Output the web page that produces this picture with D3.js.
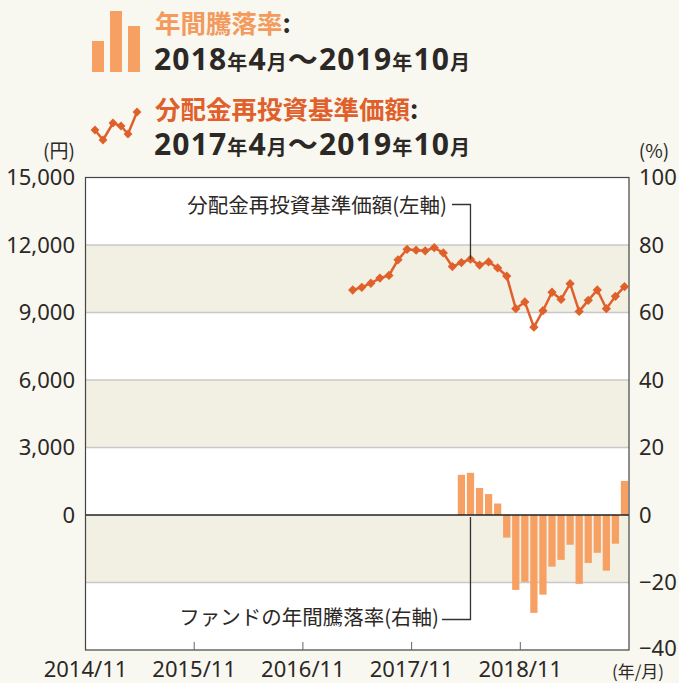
<!DOCTYPE html>
<html>
<head>
<meta charset="utf-8">
<script src="https://cdn.jsdelivr.net/npm/d3@7"></script>
<style>
  body { margin: 0; background: #f8f7f0; }
  svg { display: block; }
  text { font-family: "Noto Sans", "Noto Sans CJK JP", sans-serif; fill: #2b2825; }
  .jp { font-family: "Noto Sans CJK JP", "Noto Sans", sans-serif; }
</style>
</head>
<body>
<div id="chart"></div>
<script>
// months counted from 2014/11
const yearTicks = [0, 12, 24, 36, 48];
const yearLabels = ["2014/11", "2015/11", "2016/11", "2017/11", "2018/11"];
const leftTicks = [0, 3000, 6000, 9000, 12000, 15000];
const rightTicks = [-40, -20, 0, 20, 40, 60, 80, 100];

// 分配金再投資基準価額 2017/4 - 2019/10 (yen)
const navStart = 29;
const navValues = [10000, 10120, 10300, 10530, 10650, 11340, 11810, 11770, 11740, 11880,
  11650, 11040, 11220, 11370, 11110, 11250, 10980, 10620, 9170, 9470,
  8350, 9080, 9900, 9580, 10280, 9050, 9540, 10000, 9170, 9720, 10150];

// 年間騰落率 2018/4 - 2019/10 (%)
const retStart = 41;
const retValues = [11.9, 12.5, 8.0, 6.2, 3.4, -6.7, -22.2, -19.8, -29.0, -23.6,
  -15.3, -13.3, -8.8, -20.4, -14.2, -11.2, -16.5, -8.5, 10.1];

const lineColor = "#e0602b";
const barColor = "#f7a064";

const W = 679, H = 683;
const svg = d3.select("#chart").append("svg").attr("width", W).attr("height", H);

const pL = 85.5, pR = 629, pT = 177.5, pB = 650;

const x = d3.scaleLinear().domain([0, 60]).range([pL, pR]);
const yR = d3.scaleLinear().domain([-40, 100]).range([pB, pT]);
const yL = d3.scaleLinear().domain([-6000, 15000]).range([pB, pT]);

// plot background + bands
svg.append("rect").attr("x", pL).attr("y", pT)
  .attr("width", pR - pL).attr("height", pB - pT).attr("fill", "#fff");
[[60, 80], [20, 40], [-20, 0]].forEach(b => {
  svg.append("rect").attr("x", pL).attr("y", yR(b[1]))
    .attr("width", pR - pL).attr("height", yR(b[0]) - yR(b[1]))
    .attr("fill", "#f2efe3");
});
// grid lines
[-20, 20, 40, 60, 80].forEach(v => {
  svg.append("line").attr("x1", pL).attr("x2", pR)
    .attr("y1", yR(v)).attr("y2", yR(v))
    .attr("stroke", "#c8c8c8").attr("stroke-width", 1.5);
});

// bars
const bw = x(0.8) - x(0);
svg.append("g").selectAll("rect")
  .data(retValues)
  .enter()
  .append("rect")
  .attr("x", (d, i) => x(retStart + i + 0.1))
  .attr("width", bw)
  .attr("y", d => yR(Math.max(0, d)))
  .attr("height", d => Math.abs(yR(d) - yR(0)))
  .attr("fill", barColor);

// zero line
svg.append("line").attr("x1", pL).attr("x2", pR)
  .attr("y1", yR(0)).attr("y2", yR(0))
  .attr("stroke", "#222").attr("stroke-width", 1.5);

// frame
svg.append("rect").attr("x", pL).attr("y", pT)
  .attr("width", pR - pL).attr("height", pB - pT)
  .attr("fill", "none").attr("stroke", "#444").attr("stroke-width", 1.2);

// x ticks
svg.append("g").selectAll("line")
  .data(yearTicks.slice(1))
  .enter()
  .append("line")
  .attr("x1", d => x(d)).attr("x2", d => x(d))
  .attr("y1", pB).attr("y2", pB - 8)
  .attr("stroke", "#666").attr("stroke-width", 1);

// line
const navData = navValues.map((v, i) => ({ m: navStart + i + 0.5, v: v }));
svg.append("path")
  .datum(navData)
  .attr("fill", "none")
  .attr("stroke", lineColor)
  .attr("stroke-width", 2.5)
  .attr("d", d3.line().x(d => x(d.m)).y(d => yL(d.v)));

svg.append("g").selectAll("path")
  .data(navData)
  .enter()
  .append("path")
  .attr("transform", d => `translate(${x(d.m)},${yL(d.v)})`)
  .attr("d", d3.symbol(d3.symbolDiamond2, 55))
  .attr("fill", lineColor);

// axis labels
svg.append("g").selectAll("text")
  .data(leftTicks)
  .enter()
  .append("text")
  .attr("x", 75).attr("y", d => yL(d)).attr("dy", "0.36em")
  .attr("text-anchor", "end").style("font-size", "22px")
  .text(d => d3.format(",")(d));

svg.append("g").selectAll("text")
  .data(rightTicks)
  .enter()
  .append("text")
  .attr("x", 639).attr("y", d => yR(d) - (d === -40 ? 2 : 0)).attr("dy", "0.36em")
  .attr("text-anchor", "start").style("font-size", "22px")
  .text(d => d < 0 ? "\u2212" + Math.abs(d) : d);

svg.append("g").selectAll("text")
  .data(yearTicks)
  .enter()
  .append("text")
  .attr("x", d => x(d)).attr("y", 677)
  .attr("text-anchor", "middle").style("font-size", "22px")
  .text((d, i) => yearLabels[i]);

svg.append("text").attr("class", "jp").attr("x", 638).attr("y", 678).attr("text-anchor", "middle")
  .style("font-size", "17px").text("(年/月)");
svg.append("text").attr("class", "jp").attr("x", 59).attr("y", 158).attr("text-anchor", "middle")
  .style("font-size", "19px").text("(円)");
svg.append("text").attr("class", "jp").attr("x", 654).attr("y", 158).attr("text-anchor", "middle")
  .style("font-size", "19px").text("(%)");

// annotations
const annL = navData[13];
svg.append("path")
  .attr("d", `M452,204.5 H${x(annL.m)} V${yL(annL.v)}`)
  .attr("fill", "none").attr("stroke", "#333").attr("stroke-width", 1.3);
svg.append("text").attr("class", "jp").attr("x", 447).attr("y", 213).attr("text-anchor", "end")
  .style("font-size", "20.5px").text("分配金再投資基準価額(左軸)");

svg.append("path")
  .attr("d", `M442,619.5 H${x(retStart + 1.5)} V${yR(0) + 2}`)
  .attr("fill", "none").attr("stroke", "#333").attr("stroke-width", 1.3);
svg.append("text").attr("class", "jp").attr("x", 439).attr("y", 625).attr("text-anchor", "end")
  .style("font-size", "20.5px").text("ファンドの年間騰落率(右軸)");

// legend: bars icon
const legBars = [
  { x: 92, h: 31 },
  { x: 110, h: 61 },
  { x: 128, h: 46 }
];
svg.append("g").selectAll("rect")
  .data(legBars)
  .enter()
  .append("rect")
  .attr("x", d => d.x).attr("y", d => 72 - d.h)
  .attr("width", 12).attr("height", d => d.h)
  .attr("fill", barColor);

// legend: line icon
const legLine = [[95, 130], [103, 140], [113, 123], [121, 126], [128, 134], [137, 112]];
svg.append("path")
  .attr("d", d3.line()(legLine))
  .attr("fill", "none").attr("stroke", lineColor).attr("stroke-width", 2.5);
svg.append("g").selectAll("path")
  .data(legLine)
  .enter()
  .append("path")
  .attr("transform", d => `translate(${d[0]},${d[1]})`)
  .attr("d", d3.symbol(d3.symbolDiamond2, 50))
  .attr("fill", lineColor);

function legendTitle(y, label, color) {
  const t = svg.append("text").attr("class", "jp").attr("x", 155).attr("y", y)
    .style("font-size", "25.5px").style("font-weight", "bold");
  t.append("tspan").style("fill", color).text(label);
  t.append("tspan").text(":");
}
function legendPeriod(y, parts) {
  const t = svg.append("text").attr("x", 154).attr("y", y)
    .style("font-weight", "bold")
    .attr("textLength", 316).attr("lengthAdjust", "spacing");
  parts.forEach(p => {
    t.append("tspan").style("font-size", p.big ? "30px" : "20px").text(p.s);
  });
}
legendTitle(33, "年間騰落率", "#f39a5c");
legendPeriod(70, [{ s: "2018", big: 1 }, { s: "年" }, { s: "4", big: 1 }, { s: "月" },
  { s: "〜", big: 1 }, { s: "2019", big: 1 }, { s: "年" }, { s: "10", big: 1 }, { s: "月" }]);
legendTitle(119, "分配金再投資基準価額", lineColor);
legendPeriod(155, [{ s: "2017", big: 1 }, { s: "年" }, { s: "4", big: 1 }, { s: "月" },
  { s: "〜", big: 1 }, { s: "2019", big: 1 }, { s: "年" }, { s: "10", big: 1 }, { s: "月" }]);
</script>
</body>
</html>
